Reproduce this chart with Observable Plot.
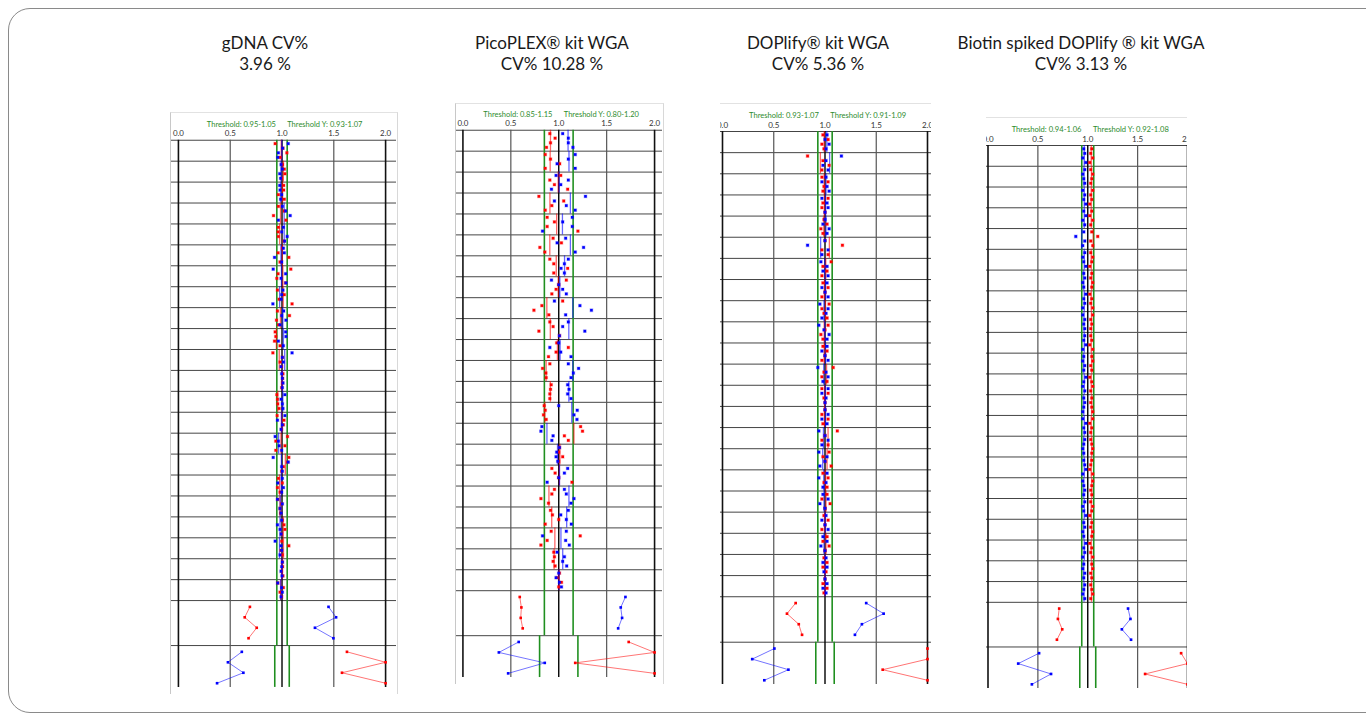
<!DOCTYPE html>
<html><head><meta charset="utf-8">
<script src="https://cdn.jsdelivr.net/npm/d3@7"></script>
<script src="https://cdn.jsdelivr.net/npm/@observablehq/plot@0.6"></script>
<style>
body{margin:0;background:#fff;font-family:Lato,"Open Sans",sans-serif;}
#root{position:relative;width:1366px;height:713px;overflow:hidden;background:#fff;}
.frame{position:absolute;left:8px;top:8px;width:1400px;height:703px;border:1px solid #8a8a8a;border-radius:22px;}
.title{position:absolute;text-align:center;font-size:17px;line-height:21px;color:#1a1a1a;transform:translateX(-50%);white-space:nowrap;}
.panel{position:absolute;overflow:hidden;box-sizing:border-box;border-top:1px solid #e2e2e2;}
</style></head><body><div id="root"><div class="frame"></div></div>
<script>
// ---------- data ----------
const chromosomes = ["1","2","3","4","5","6","7","8","9","10","11","12","13","14","15","16","17","18","19","20","21","22"];
const panelNames = ["gDNA CV%", "PicoPLEX® kit WGA", "DOPlify® kit WGA", "Biotin spiked DOPlify ® kit WGA"];
const cvLabels = ["3.96 %", "CV% 10.28 %", "CV% 5.36 %", "CV% 3.13 %"];
const xTicks = [0, 0.5, 1, 1.5, 2];
const thresholds = [[0.95, 1.05], [0.85, 1.15], [0.93, 1.07], [0.94, 1.06]];
const thresholdsY = [[0.93, 1.07], [0.80, 1.20], [0.91, 1.09], [0.92, 1.08]];

// autosomes: 4 bins per chromosome, red and blue channel ratios
const gdnaRed = [
 [0.934,1.009,1.047,0.981],[1.006,1.022,1.028,0.997],[1.016,1.016,0.965,1.022],[0.965,1.022,0.918,1.038],
 [0.965,0.962,0.965,1.019],[1.003,0.962,1.066,0.981],[1.085,0.962,0.950,1.035],[0.956,1.022,0.972,1.097],
 [0.956,1.072,0.947,0.965],[0.934,0.940,0.928,0.981],[0.912,1.003,0.981,0.997],[1.009,1.006,1.003,0.997],
 [0.950,0.956,0.959,0.972],[0.953,1.019,1.013,0.997],[1.053,0.940,1.028,0.940],[1.066,1.053,1.013,0.997],
 [0.965,1.003,0.956,0.981],[0.959,0.997,0.981,0.987],[1.003,1.019,1.028,0.997],[0.997,1.066,0.991,1.003],
 [1.003,1.006,0.997,1.009],[0.959,1.013,0.981,0.997]];
const gdnaBlue = [
 [1.060,1.006,0.965,0.959],[0.991,1.003,0.978,0.987],[0.978,0.981,0.997,0.987],[1.003,1.035,1.079,0.965],
 [1.013,0.997,1.050,1.025],[1.013,1.022,0.928,0.997],[0.915,1.035,0.991,1.038],[1.009,0.997,0.991,0.912],
 [1.016,0.997,1.038,0.981],[1.035,1.038,0.965,1.013],[1.097,1.003,1.013,0.991],[0.997,1.003,1.009,1.003],
 [1.028,0.991,1.003,1.009],[1.028,0.956,1.003,0.991],[0.934,0.965,0.972,0.997],[0.915,1.060,0.997,1.003],
 [1.003,0.959,1.013,0.997],[0.956,1.003,0.981,0.991],[0.997,0.956,0.981,0.991],[0.934,0.991,0.997,0.981],
 [1.003,0.997,0.991,1.000],[0.959,0.997,1.003,0.991]];
const picoRed = [
 [0.907,0.962,0.914,0.872],[0.859,0.914,1.010,0.859],[1.021,0.907,0.955,1.093],[0.793,1.052,0.928,0.859],
 [0.879,0.955,0.879,1.200],[0.941,1.028,0.803,0.855],[0.907,0.948,1.093,0.948],[1.079,1.000,0.972,0.928],
 [1.041,0.824,0.741,0.897],[0.907,0.941,0.793,1.007],[0.979,1.100,0.972,0.893],[0.907,0.831,0.866,0.869],
 [0.921,0.914,0.907,0.907],[0.848,0.859,0.841,0.869],[1.228,1.248,1.059,1.100],[1.007,1.000,1.041,1.000],
 [0.928,0.962,1.000,1.138],[0.955,0.928,0.814,0.893],[0.914,0.934,1.000,0.859],[0.921,1.224,0.879,0.814],
 [0.948,0.955,0.941,0.962],[1.007,0.983,1.028,1.000]];
const picoBlue = [
 [1.041,1.100,1.100,1.148],[1.172,1.100,0.983,1.172],[0.972,1.100,1.021,0.924],[1.279,0.955,1.079,1.172],
 [1.141,1.041,1.141,0.831],[1.072,0.983,1.259,1.172],[1.100,1.059,1.024,1.059],[0.924,1.000,1.041,1.079],
 [0.955,1.221,1.341,1.072],[1.100,1.041,1.272,1.007],[1.000,0.907,1.021,1.128],[1.100,1.207,1.152,1.128],
 [1.093,1.107,1.093,1.128],[1.000,1.193,1.159,1.190],[0.824,0.814,0.941,0.928],[1.007,0.979,0.972,0.990],
 [1.093,1.059,1.000,0.879],[1.059,1.079,1.159,1.128],[1.100,1.021,1.079,1.131],[1.079,0.831,1.072,1.110],
 [0.983,1.059,1.041,1.083],[1.000,0.972,1.007,1.028]];
const doplifyRed = [
 [0.98,1.03,0.97,0.99],[0.83,0.98,1.04,0.97],[0.97,1.03,0.99,0.98],[1.03,0.98,0.97,1.00],
 [0.99,1.02,0.96,0.98],[1.00,1.17,0.97,1.03],[1.06,0.98,1.02,0.97],[0.98,1.03,1.00,0.97],
 [1.04,0.97,0.99,1.02],[1.03,1.00,0.96,0.98],[0.98,1.02,1.00,0.97],[1.08,0.99,0.97,1.02],
 [0.97,1.03,0.99,1.00],[1.00,0.97,1.03,0.98],[1.12,1.00,0.97,1.03],[1.04,0.98,1.00,1.06],
 [0.98,1.03,0.99,1.02],[1.02,0.97,1.05,1.00],[0.99,1.03,1.00,0.97],[1.02,0.98,1.04,1.00],
 [0.99,1.02,0.98,1.01],[1.00,0.98,1.02,0.99]];
const doplifyBlue = [
 [1.02,1.00,1.04,1.01],[1.16,1.01,0.98,1.03],[1.01,0.97,1.02,1.04],[0.97,1.02,1.03,1.00],
 [1.00,0.98,1.04,1.02],[1.00,0.83,1.03,0.97],[0.96,1.02,0.98,1.03],[1.02,0.97,1.00,1.03],
 [0.95,1.03,1.01,0.97],[0.94,0.99,1.04,1.02],[1.02,0.97,1.00,1.03],[0.93,1.01,1.03,0.98],
 [1.03,0.97,1.01,1.00],[1.00,1.03,0.97,1.02],[0.94,1.00,1.03,0.97],[0.94,1.02,1.00,0.95],
 [1.02,0.94,1.01,0.98],[0.98,1.03,0.95,1.00],[1.01,0.97,1.00,1.03],[0.98,1.02,0.96,1.00],
 [1.01,0.98,1.02,0.99],[1.00,1.02,0.98,1.01]];
const biotinRed = [
 [1.04,1.03,1.05,1.02],[1.03,1.05,1.04,1.03],[1.05,1.03,1.04,1.02],[1.04,1.02,1.05,1.03],
 [1.04,1.10,1.03,1.05],[1.03,1.05,1.04,1.02],[1.04,1.03,1.05,1.04],[1.02,1.04,1.03,1.05],
 [1.05,1.03,1.04,1.03],[1.03,1.04,1.02,1.05],[1.04,1.05,1.03,1.04],[1.02,1.04,1.05,1.03],
 [1.04,1.03,1.04,1.05],[1.05,1.02,1.04,1.03],[1.03,1.04,1.05,1.04],[1.04,1.03,1.02,1.05],
 [1.05,1.04,1.03,1.04],[1.03,1.05,1.04,1.02],[1.04,1.03,1.05,1.04],[1.02,1.04,1.03,1.05],
 [1.04,1.05,1.03,1.04],[1.03,1.04,1.05,1.03]];
const biotinBlue = [
 [0.96,0.97,0.95,0.98],[0.97,0.95,0.96,0.97],[0.95,0.97,0.96,0.98],[0.96,0.98,0.95,0.97],
 [0.96,0.88,0.97,0.95],[0.97,0.95,0.96,0.98],[0.96,0.97,0.95,0.96],[0.98,0.96,0.97,0.95],
 [0.95,0.97,0.96,0.97],[0.97,0.96,0.98,0.95],[0.96,0.95,0.97,0.96],[0.98,0.96,0.95,0.97],
 [0.96,0.97,0.96,0.95],[0.95,0.98,0.96,0.97],[0.97,0.96,0.95,0.96],[0.96,0.97,0.98,0.95],
 [0.95,0.96,0.97,0.96],[0.97,0.95,0.96,0.98],[0.96,0.97,0.95,0.96],[0.98,0.96,0.97,0.95],
 [0.96,0.95,0.97,0.96],[0.97,0.96,0.95,0.97]];

// sex chromosomes: 4 bins each
const gdnaXRed = [0.69, 0.64, 0.756, 0.677],    gdnaXBlue = [1.449, 1.522, 1.318, 1.496];
const gdnaYRed = [1.627, 2.0, 1.579, 2.0],      gdnaYBlue = [0.612, 0.478, 0.627, 0.373];
const picoXRed = [0.593, 0.61, 0.603, 0.624],   picoXBlue = [1.696, 1.647, 1.661, 1.62];
const picoYRed = [1.73, 2.0, 1.172, 2.0],       picoYBlue = [0.582, 0.375, 0.854, 0.472];
const doplifyXRed = [0.714, 0.629, 0.744, 0.776], doplifyXBlue = [1.402, 1.572, 1.36, 1.292];
const doplifyYRed = [2.0, 2.0, 1.563, 2.0],     doplifyYBlue = [0.506, 0.29, 0.643, 0.408];
const biotinXRed = [0.714, 0.701, 0.744, 0.691], biotinXBlue = [1.404, 1.428, 1.342, 1.434];
const biotinYRed = [1.936, 2.0, 1.575, 2.0],    biotinYBlue = [0.512, 0.303, 0.632, 0.44];

// ---------- layout ----------
const layouts = [
  {clip: [170, 112, 398, 694], x0: 178, x2: 387, top: 140, bottom: 692, cx: 265, side: true},
  {clip: [455, 103, 664, 684], x0: 462.5, x2: 656, top: 130, bottom: 682.6, cx: 552, side: true},
  {clip: [720, 103, 931, 685], x0: 722, x2: 927, top: 131, bottom: 684, cx: 818, side: false},
  {clip: [986, 117, 1187, 691], x0: 987.5, x2: 1187, top: 145, bottom: 688, cx: 1081, side: false}
];
const panelData = [
  {red: gdnaRed, blue: gdnaBlue, xr: gdnaXRed, xb: gdnaXBlue, yr: gdnaYRed, yb: gdnaYBlue},
  {red: picoRed, blue: picoBlue, xr: picoXRed, xb: picoXBlue, yr: picoYRed, yb: picoYBlue},
  {red: doplifyRed, blue: doplifyBlue, xr: doplifyXRed, xb: doplifyXBlue, yr: doplifyYRed, yb: doplifyYBlue},
  {red: biotinRed, blue: biotinBlue, xr: biotinXRed, xb: biotinXBlue, yr: biotinYRed, yb: biotinYBlue}
];

const X0 = 22, X1 = 24.15, Y1 = 26.15;
const binOff = [0.16, 0.38, 0.6, 0.82];
const sexOff = [0.3, 0.8, 1.3, 1.8];
const RED = "#ff0000", BLUE = "#0000ff";
const root = document.getElementById("root");

panelData.forEach((d, p) => {
  const L = layouts[p];
  const pts = c => d[c].flatMap((vals, i) => vals.map((v, j) => ({x: v, y: i + binOff[j]})));
  const means = c => d[c].map((vals, i) => ({x: d3.mean(vals), y1: i, y2: i + 1}));
  const sex = (vals, start) => vals.map((v, j) => ({x: v, y: start + sexOff[j]}));
  const boundaries = d3.range(0, 23).concat([X1]);
  const W = L.clip[2] - L.clip[0], H = L.clip[3] - L.clip[1];
  const [t0, t1] = thresholds[p], [ty0, ty1] = thresholdsY[p];
  const label = `Threshold: ${t0.toFixed(2)}-${t1.toFixed(2)}      Threshold Y: ${ty0.toFixed(2)}-${ty1.toFixed(2)}`;
  const chart = Plot.plot({
    width: W, height: H,
    marginLeft: L.x0 - L.clip[0], marginRight: L.clip[2] - L.x2,
    marginTop: L.top - L.clip[1], marginBottom: L.clip[3] - L.bottom,
    x: {domain: [0, 2], ticks: xTicks, tickFormat: d3.format(".1f"), axis: "top", tickSize: 0, tickPadding: 4, label: null},
    y: {domain: [0, Y1], reverse: true, axis: null},
    style: {fontSize: "8px", fontFamily: "Lato, 'Open Sans', sans-serif", color: "#333", background: "#fff"},
    marks: [
      Plot.ruleY(boundaries, {y: d => d, x1: -1, x2: 3, stroke: "#444", strokeWidth: 1}),
      Plot.ruleX([0.5, 1.5], {y1: 0, y2: Y1, stroke: "#555", strokeWidth: 1.2}),
      Plot.ruleX([0, 2], {y1: 0, y2: Y1, stroke: "#111", strokeWidth: 1.6}),
      Plot.ruleX([t0, t1], {y1: 0, y2: X1, stroke: "#1f8f1f", strokeWidth: 1.6}),
      Plot.ruleX([ty0, ty1], {y1: X1, y2: Y1, stroke: "#1f8f1f", strokeWidth: 1.6}),
      Plot.ruleX([1], {y1: 0, y2: Y1, stroke: "#000", strokeWidth: 1.4}),
      Plot.ruleX(means("red"), {x: "x", y1: "y1", y2: "y2", stroke: RED, strokeOpacity: 0.6, strokeWidth: 1.3}),
      Plot.ruleX(means("blue"), {x: "x", y1: "y1", y2: "y2", stroke: BLUE, strokeOpacity: 0.6, strokeWidth: 1.3}),
      Plot.line(sex(d.xr, X0), {x: "x", y: "y", stroke: RED, strokeOpacity: 0.55, strokeWidth: 1}),
      Plot.line(sex(d.xb, X0), {x: "x", y: "y", stroke: BLUE, strokeOpacity: 0.55, strokeWidth: 1}),
      Plot.line(sex(d.yr, X1), {x: "x", y: "y", stroke: RED, strokeOpacity: 0.55, strokeWidth: 1}),
      Plot.line(sex(d.yb, X1), {x: "x", y: "y", stroke: BLUE, strokeOpacity: 0.55, strokeWidth: 1}),
      Plot.dot(pts("red"), {x: "x", y: "y", symbol: "square", r: 1.5, fill: RED, stroke: RED, strokeOpacity: 0.25, strokeWidth: 1.2}),
      Plot.dot(pts("blue"), {x: "x", y: "y", symbol: "square", r: 1.5, fill: BLUE, stroke: BLUE, strokeOpacity: 0.25, strokeWidth: 1.2}),
      Plot.dot(sex(d.xr, X0).concat(sex(d.yr, X1)), {x: "x", y: "y", symbol: "square", r: 1.5, fill: RED}),
      Plot.dot(sex(d.xb, X0).concat(sex(d.yb, X1)), {x: "x", y: "y", symbol: "square", r: 1.5, fill: BLUE}),
      Plot.text([label], {x: () => 1.025, frameAnchor: "top", dy: -19, fill: "#2e8b2e", fontSize: 7.6})
    ]
  });
  const div = document.createElement("div");
  div.className = "panel";
  div.style.left = L.clip[0] + "px";
  div.style.top = L.clip[1] + "px";
  div.style.width = W + "px";
  div.style.height = H + "px";
  if (L.side) { div.style.borderLeft = "1px solid #c8c8c8"; div.style.borderRight = "1px solid #d8d8d8"; }
  chart.style.position = "absolute";
  chart.style.left = (L.side ? -1 : 0) + "px";
  chart.style.top = "-1px";
  div.appendChild(chart);
  root.appendChild(div);

  const t = document.createElement("div");
  t.className = "title";
  t.style.left = L.cx + "px";
  t.style.top = "32px";
  t.innerHTML = panelNames[p] + "<br>" + cvLabels[p];
  root.appendChild(t);
});
</script></body></html>
